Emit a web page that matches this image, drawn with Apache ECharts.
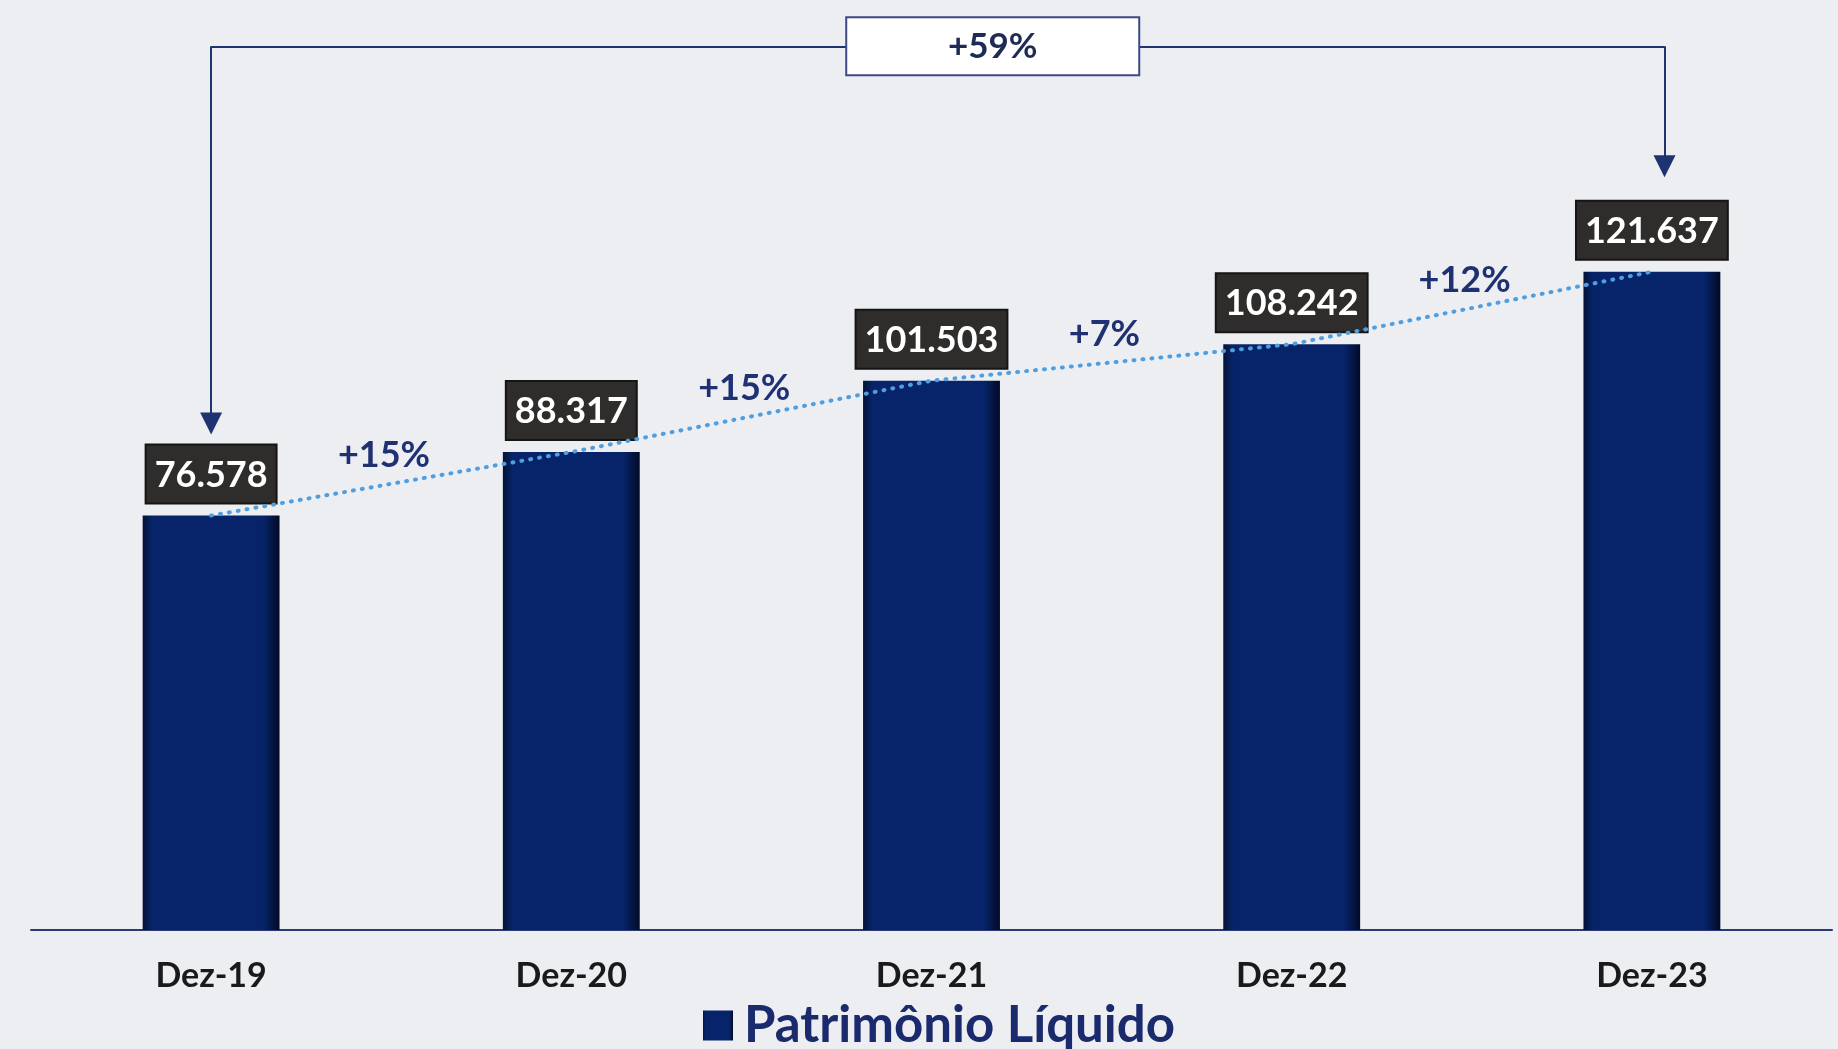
<!DOCTYPE html>
<html>
<head>
<meta charset="utf-8">
<script src="https://cdn.jsdelivr.net/npm/echarts@6/dist/echarts.min.js"></script>
<style>
  html, body { margin: 0; padding: 0; background: #eceef2; }
  #chart { width: 1838px; height: 1049px; }
</style>
</head>
<body>
<div id="chart"></div>
<script>
  // dados
  const categories = ['Dez-19', 'Dez-20', 'Dez-21', 'Dez-22', 'Dez-23'];
  const patrimonio = [76.578, 88.317, 101.503, 108.242, 121.637];
  const growthLabels = ['+15%', '+15%', '+7%', '+12%'];
  const totalGrowth = '+59%';
  const seriesName = 'Patrimônio Líquido';

  const navy = '#1a2a6c';
  const font = 'Lato, "Open Sans", sans-serif';

  // bracket layout (annotation, in axis units)
  const bracketTop = 163.3;
  const arrowGap = 17;
  const boxX = 2.17;

  const fmt = v => v.toFixed(3);

  const growthPoints = growthLabels.map((t, i) => ({
    value: [i + 0.48, (patrimonio[i] + patrimonio[i + 1]) / 2],
    label: { formatter: t }
  }));

  const last = patrimonio.length - 1;
  const rightX = last + 0.035;
  const arrows = [
    { coords: [[0, bracketTop], [0, patrimonio[0] + arrowGap]] },
    { coords: [[rightX, bracketTop], [rightX, patrimonio[last] + arrowGap + 2.5]] }
  ];
  const topLine = [{ coords: [[0, bracketTop], [rightX, bracketTop]] }];

  const chart = echarts.init(document.getElementById('chart'));
  chart.setOption({
    backgroundColor: '#eceef2',
    animation: false,
    grid: { left: 31, right: 6, top: 10, bottom: 119 },
    legend: {
      data: [seriesName],
      left: 698,
      top: 995,
      icon: 'rect',
      itemWidth: 30,
      itemHeight: 30,
      itemGap: 10,
      textStyle: { fontFamily: font, fontSize: 51, fontWeight: 'bold', color: navy, padding: [0, 0, 0, 6] }
    },
    xAxis: [{
      type: 'category',
      data: categories,
      axisLine: { lineStyle: { color: '#2a3a74', width: 2 } },
      axisTick: { show: false },
      axisLabel: {
        margin: 29,
        fontFamily: font, fontSize: 34, fontWeight: 'bold', color: '#1a1a1a'
      }
    }, {
      type: 'value',
      min: -0.5,
      max: 4.5,
      show: false
    }],
    yAxis: {
      type: 'value',
      min: 0,
      max: 170,
      show: false,
      splitLine: { show: false }
    },
    series: [{
      name: seriesName,
      type: 'bar',
      data: patrimonio,
      barWidth: '38%',
      itemStyle: {
        color: new echarts.graphic.LinearGradient(0, 0, 1, 0, [
          { offset: 0, color: '#041236' },
          { offset: 0.07, color: '#07246a' },
          { offset: 0.88, color: '#07246a' },
          { offset: 1, color: '#020a26' }
        ])
      },
      label: {
        show: true,
        position: 'top',
        distance: 13,
        formatter: p => fmt(p.value),
        fontFamily: font,
        fontSize: 36,
        fontWeight: 'bold',
        color: '#ffffff',
        lineHeight: 43,
        backgroundColor: '#2f2d2b',
        borderColor: '#151515',
        borderWidth: 2,
        padding: [8, 8, 6, 8]
      },
      z: 2
    }, {
      name: 'tendencia',
      type: 'line',
      data: patrimonio,
      symbol: 'none',
      lineStyle: { color: '#4f9ee0', width: 4, type: [1, 8], cap: 'round' },
      z: 4
    }, {
      name: 'crescimento',
      type: 'scatter',
      xAxisIndex: 1,
      data: growthPoints,
      symbolSize: 0,
      itemStyle: { opacity: 1 },
      label: {
        show: true,
        position: 'top',
        distance: 10,
        fontFamily: font,
        fontSize: 36,
        fontWeight: 'bold',
        color: '#1f3172'
      },
      z: 5
    }, {
      name: 'setas',
      type: 'lines',
      coordinateSystem: 'cartesian2d',
      xAxisIndex: 1,
      symbol: ['none', 'triangle'],
      symbolSize: 22,
      data: arrows,
      lineStyle: { color: '#1e3370', width: 2, opacity: 1, curveness: 0 },
      z: 3
    }, {
      name: 'colchete',
      type: 'lines',
      coordinateSystem: 'cartesian2d',
      xAxisIndex: 1,
      symbol: 'none',
      data: topLine,
      lineStyle: { color: '#1e3370', width: 2, opacity: 1, curveness: 0 },
      z: 3
    }, {
      name: 'total',
      type: 'scatter',
      xAxisIndex: 1,
      data: [[boxX, bracketTop]],
      symbolSize: 0,
      itemStyle: { opacity: 1 },
      label: {
        show: true,
        position: 'inside',
        formatter: totalGrowth,
        fontFamily: font,
        fontSize: 35,
        fontWeight: 'bold',
        color: '#1f2a55',
        backgroundColor: '#ffffff',
        borderColor: '#3b4a85',
        borderWidth: 2,
        width: 275,
        align: 'center',
        lineHeight: 40,
        padding: [8, 8]
      },
      z: 6
    }]
  });
</script>
</body>
</html>
